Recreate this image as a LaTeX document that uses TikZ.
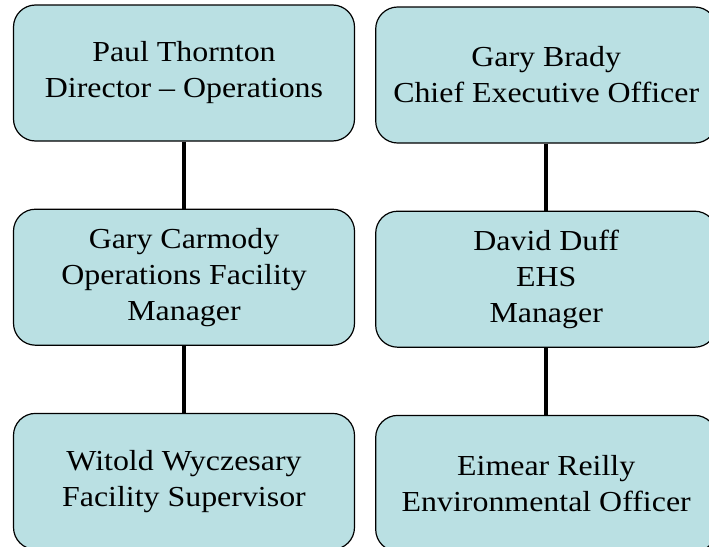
\documentclass[tikz,border=0pt]{standalone}
\usepackage{fontspec}
\setmainfont{Liberation Serif}[FakeStretch=1.1]
\usepackage{tikz}
\usetikzlibrary{positioning}
\definecolor{boxfill}{RGB}{186,224,227}

\begin{document}
\begin{tikzpicture}[
    node distance=67pt and 20pt,
    staffbox/.style={rectangle, draw, rounded corners=22pt, line width=1.2pt, fill=boxfill, minimum width=341pt, minimum height=136pt, inner sep=0pt, align=center, font=\fontsize{29}{36}\selectfont},
    link/.style={line width=4.5pt}
]
\useasboundingbox (0,0) rectangle (709pt,-546pt);

% Operations line
\node[staffbox] (thornton) at (184pt,-73pt) {Paul Thornton \\ Director – Operations};
\node[staffbox, below=of thornton] (carmody) {Gary Carmody \\ Operations Facility \\ Manager};
\node[staffbox, below=of carmody] (wyczesary) {Witold Wyczesary \\ Facility Supervisor};

% EHS line
\node[staffbox, right=20pt of thornton, yshift=-2pt] (brady) {Gary Brady \\ Chief Executive Officer};
\node[staffbox, below=of brady] (duff) {David Duff \\ EHS \\ Manager};
\node[staffbox, below=of duff] (reilly) {Eimear Reilly \\ Environmental Officer};

% Reporting lines
\draw[link] (thornton) -- (carmody);
\draw[link] (carmody) -- (wyczesary);
\draw[link] (brady) -- (duff);
\draw[link] (duff) -- (reilly);

\end{tikzpicture}
\end{document}
